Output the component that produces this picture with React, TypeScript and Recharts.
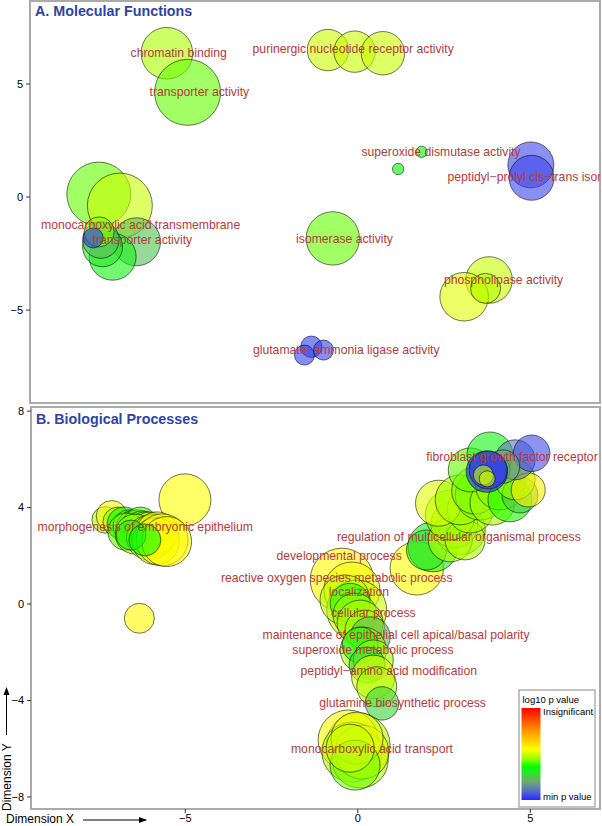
import React from "react"
import { ScatterChart, Scatter, XAxis, YAxis, ZAxis, ReferenceArea } from "recharts"

// bubbles: [dimension x, dimension y, term size, scaled log10 p (0 = min p, 1 = insignificant)]
const mfBubbles: [number, number, number, number][] = [
  [-5.51, 6.36, 6.66, 0.47],
  [-4.91, 4.63, 10.89, 0.42],
  [-7.48, 0.13, 10.24, 0.42],
  [-6.87, -0.38, 10.56, 0.5],
  [-6.39, -1.98, 5.76, 0.24],
  [-7.08, -2.64, 5.52, 0.33],
  [-7.37, -2.2, 4.0, 0.3],
  [-7.42, -1.9, 3.35, 0.22],
  [-7.47, -1.54, 2.25, 0.44],
  [-7.64, -1.81, 1.0, 0.02],
  [-0.85, 6.5, 4.28, 0.5],
  [-0.08, 6.43, 4.28, 0.5],
  [0.74, 6.36, 4.71, 0.5],
  [1.86, 2.0, 0.32, 0.35],
  [1.18, 1.24, 0.32, 0.35],
  [5.02, 1.42, 5.29, 0.04],
  [5.04, 0.85, 5.06, 0.04],
  [-0.71, -1.83, 7.13, 0.42],
  [3.81, -3.67, 5.43, 0.5],
  [3.09, -4.41, 5.9, 0.52],
  [3.71, -4.04, 2.25, 0.48],
  [-1.33, -6.62, 1.14, 0.03],
  [-0.98, -6.77, 1.0, 0.03],
  [-1.53, -6.99, 1.0, 0.03],
]

const mfLabels: [string, number, number][] = [
  ["chromatin binding", -5.17, 6.36],
  ["transporter activity", -4.57, 4.65],
  ["purinergic nucleotide receptor activity", -0.12, 6.55],
  ["superoxide dismutase activity", 2.42, 2.0],
  ["peptidyl\u2212prolyl cis\u2212trans isomerase activity", 5.95, 0.9],
  ["isomerase activity", -0.37, -1.83],
  ["phospholipase activity", 4.23, -3.67],
  ["glutamate\u2212ammonia ligase activity", -0.32, -6.77],
  ["monocarboxylic acid transmembrane", -6.27, -1.24],
  ["transporter activity", -6.22, -1.9],
]

const bpBubbles: [number, number, number, number][] = [
  // morphogenesis cluster
  [-5.01, 4.32, 6.76, 0.55],
  [-6.33, -0.59, 2.25, 0.56],
  [-7.32, 3.49, 1.77, 0.47],
  [-7.13, 3.65, 2.4, 0.54],
  [-6.95, 3.4, 2.25, 0.46],
  [-6.77, 3.32, 2.89, 0.36],
  [-6.63, 3.24, 2.56, 0.44],
  [-6.48, 3.15, 3.24, 0.38],
  [-6.37, 3.2, 2.89, 0.45],
  [-6.3, 3.3, 3.0, 0.4],
  [-6.25, 3.07, 3.61, 0.4],
  [-6.14, 2.99, 4.0, 0.47],
  [-6.02, 3.07, 3.24, 0.52],
  [-6.7, 3.0, 3.5, 0.42],
  [-6.45, 2.9, 4.0, 0.46],
  [-6.05, 2.75, 5.0, 0.5],
  [-5.93, 2.82, 4.84, 0.48],
  [-5.82, 2.95, 4.41, 0.53],
  [-5.85, 2.6, 5.5, 0.52],
  [-5.67, 2.66, 6.76, 0.55],
  [-5.54, 2.59, 6.25, 0.56],
  [-6.57, 2.86, 2.25, 0.34],
  [-6.17, 2.66, 2.56, 0.35],
  // fibroblast / regulation cluster
  [1.71, 1.48, 7.13, 0.55],
  [2.18, 2.37, 6.25, 0.33],
  [1.99, 2.24, 4.0, 0.3],
  [2.97, 3.07, 6.25, 0.46],
  [2.8, 3.3, 5.5, 0.47],
  [2.68, 2.66, 4.84, 0.48],
  [3.11, 2.66, 4.0, 0.47],
  [2.68, 3.69, 6.25, 0.45],
  [3.26, 3.9, 5.29, 0.47],
  [2.34, 4.18, 5.29, 0.52],
  [2.97, 4.32, 6.25, 0.46],
  [3.55, 4.52, 6.25, 0.43],
  [3.4, 4.7, 5.5, 0.44],
  [3.9, 4.2, 5.0, 0.46],
  [4.13, 4.94, 6.25, 0.44],
  [4.41, 4.32, 4.84, 0.38],
  [4.7, 4.52, 3.24, 0.25],
  [4.56, 5.15, 4.0, 0.45],
  [4.94, 4.73, 2.89, 0.58],
  [3.26, 5.56, 4.84, 0.42],
  [3.83, 6.18, 5.29, 0.33],
  [4.56, 5.98, 4.0, 0.12],
  [5.04, 6.25, 3.35, 0.05],
  [3.98, 5.56, 2.25, 0.3],
  [4.21, 5.7, 2.79, 0.2],
  [3.74, 5.49, 4.28, 0.0],
  [3.78, 5.56, 3.61, 0.02],
  [3.64, 5.35, 1.0, 0.5],
  [3.75, 5.19, 0.64, 0.5],
  // localization / cellular process chain
  [-0.46, 1.0, 10.05, 0.56],
  [-0.17, 0.58, 7.84, 0.54],
  [-0.03, -0.25, 9.0, 0.5],
  [-0.37, 0.17, 6.25, 0.48],
  [-0.22, 0.03, 4.0, 0.38],
  [-0.08, -0.46, 4.84, 0.45],
  [0.07, -0.79, 5.29, 0.47],
  [0.21, -1.08, 4.0, 0.46],
  [0.36, -1.36, 4.0, 0.22],
  [0.16, -1.91, 5.29, 0.47],
  [0.07, -1.7, 3.24, 0.34],
  [0.45, -2.32, 4.0, 0.45],
  [0.27, -2.53, 3.24, 0.28],
  [0.45, -3.02, 4.71, 0.52],
  [0.55, -3.43, 4.0, 0.47],
  [0.7, -4.12, 2.79, 0.27],
  // monocarboxylic acid transport cluster
  [0.01, -5.85, 10.24, 0.48],
  [-0.28, -5.64, 9.0, 0.54],
  [-0.17, -6.14, 9.0, 0.47],
  [0.07, -6.47, 7.84, 0.46],
  [0.12, -6.14, 7.29, 0.52],
  [-0.02, -5.56, 6.76, 0.53],
  [-0.08, -6.68, 6.25, 0.43],
  [-0.22, -5.98, 5.76, 0.5],
]

const bpLabels: [string, number, number][] = [
  ["morphogenesis of embryonic epithelium", -6.16, 3.21],
  ["fibroblast growth factor receptor", 4.47, 6.09],
  ["regulation of multicellular organismal process", 2.93, 2.77],
  ["developmental process", -0.54, 1.99],
  ["reactive oxygen species metabolic process", -0.61, 1.11],
  ["localization", 0.03, 0.51],
  ["cellular process", 0.45, -0.36],
  ["maintenance of epithelial cell apical/basal polarity", 1.11, -1.29],
  ["superoxide metabolic process", 0.44, -1.88],
  ["peptidyl\u2212amino acid modification", 0.9, -2.77],
  ["glutamine biosynthetic process", 1.3, -4.08],
  ["monocarboxylic acid transport", 0.41, -5.99],
]

const xDomain: [number, number] = [-9.47, 7.02]
const mfYDomain: [number, number] = [-9.11, 8.67]
const bpYDomain: [number, number] = [-8.5, 8.17]
const xTicks = [-5, 0, 5]
const mfYTicks = [-5, 0, 5]
const bpYTicks = [-8, -4, 0, 4, 8]

// colour scale, 0 = min p value (blue) .. 1 = insignificant (red)
const colorStops: [number, number[]][] = [
  [0.0, [40, 40, 255]],
  [0.1, [90, 110, 200]],
  [0.2, [110, 170, 110]],
  [0.3, [40, 230, 40]],
  [0.36, [0, 255, 0]],
  [0.45, [150, 255, 0]],
  [0.55, [255, 255, 0]],
  [0.75, [255, 150, 0]],
  [1.0, [255, 0, 0]],
]

function pColor(v: number) {
  for (let i = 1; i < colorStops.length; i++) {
    const [t1, c1] = colorStops[i]
    const [t0, c0] = colorStops[i - 1]
    if (v <= t1) {
      const f = (v - t0) / (t1 - t0)
      const c = c0.map((a, k) => Math.round(a + (c1[k] - a) * f))
      return `rgb(${c[0]},${c[1]},${c[2]})`
    }
  }
  return "rgb(255,0,0)"
}

const FONT = "'Liberation Sans', Arial, Helvetica, sans-serif"
const minus = (v: number) => String(v).replace("-", "\u2212")

const toRows = (b: [number, number, number, number][]) => b.map(([x, y, z, p]) => ({ x, y, z, p }))
const toLabels = (l: [string, number, number][]) => l.map(([name, x, y]) => ({ name, x, y }))

const Bubble = (props: any) => {
  const r = (props.width || 0) / 2
  return (
    <circle
      cx={props.cx}
      cy={props.cy}
      r={r}
      fill={pColor(props.payload.p)}
      fillOpacity={0.6}
      stroke="#000"
      strokeOpacity={0.55}
      strokeWidth={1}
    />
  )
}

const TermLabel = (props: any) => (
  <text
    x={props.cx}
    y={props.cy}
    dy="0.35em"
    textAnchor="middle"
    fill="#b03c3c"
    fontSize={12.2}
    fontFamily={FONT}
  >
    {props.payload.name}
  </text>
)

const tickStyle = { fill: "#000", fontSize: 11, fontFamily: FONT }

function Panel({ top, height, bubbles, labels, yDomain, yTicks, showX, left }: any) {
  return (
    <div style={{ position: "absolute", left: 0, top }}>
      <ScatterChart
        width={602}
        height={height}
        margin={{ top: 2, right: 2, bottom: showX ? 0 : 2, left: 0 }}
      >
        <XAxis
          type="number"
          dataKey="x"
          domain={xDomain}
          ticks={xTicks}
          allowDataOverflow
          hide={!showX}
          height={17}
          axisLine={false}
          tickSize={4}
          tickMargin={1}
          tickLine={{ stroke: "#333" }}
          tick={tickStyle}
          tickFormatter={minus}
        />
        <YAxis
          type="number"
          dataKey="y"
          domain={yDomain}
          ticks={yTicks}
          allowDataOverflow
          width={left}
          axisLine={false}
          tickSize={4}
          tickMargin={3}
          tickLine={{ stroke: "#333" }}
          tick={tickStyle}
          tickFormatter={minus}
        />
        <ZAxis type="number" dataKey="z" domain={[0, 12]} range={[0, 1200 * Math.PI]} />
        <ReferenceArea
          x1={xDomain[0]}
          x2={xDomain[1]}
          y1={yDomain[0]}
          y2={yDomain[1]}
          fill="none"
          stroke="#aaaaaa"
          strokeWidth={2}
          ifOverflow="visible"
        />
        <Scatter data={toRows(bubbles)} shape={Bubble} isAnimationActive={false} />
        <Scatter data={toLabels(labels)} shape={TermLabel} isAnimationActive={false} />
      </ScatterChart>
    </div>
  )
}

export default function App() {
  const gradStops = colorStops.map(([t, c]) => (
    <stop key={t} offset={`${(1 - t) * 100}%`} stopColor={`rgb(${c[0]},${c[1]},${c[2]})`} />
  ))
  return (
    <div
      style={{
        position: "absolute",
        left: 0,
        top: 0,
        width: 602,
        height: 826,
        background: "#fff",
        fontFamily: FONT,
        overflow: "hidden",
      }}
    >
      <Panel top={-1} height={406} bubbles={mfBubbles} labels={mfLabels} yDomain={mfYDomain} yTicks={mfYTicks} showX={false} left={30} />
      <Panel top={405} height={421} bubbles={bpBubbles} labels={bpLabels} yDomain={bpYDomain} yTicks={bpYTicks} showX={true} left={31} />

      <svg width={602} height={826} style={{ position: "absolute", left: 0, top: 0, pointerEvents: "none" }}>
        <defs>
          <linearGradient id="pgrad" x1="0" y1="0" x2="0" y2="1">
            {gradStops.reverse()}
          </linearGradient>
          <marker id="arrow" markerWidth="8" markerHeight="8" refX="7" refY="4" orient="auto">
            <path d="M0,1 L8,4 L0,7 Z" fill="#000" />
          </marker>
        </defs>
        <text x={35} y={16} fontSize={14.3} fontWeight="bold" fill="#2f44a0" fontFamily={FONT}>
          A. Molecular Functions
        </text>
        <text x={36} y={424} fontSize={14.3} fontWeight="bold" fill="#2f44a0" fontFamily={FONT}>
          B. Biological Processes
        </text>

        {/* p value legend */}
        <rect x={519} y={690} width={76} height={117} fill="#fff" stroke="#888" strokeWidth={1} />
        <text x={522.5} y={703} fontSize={9.5} fill="#000" fontFamily={FONT}>log10 p value</text>
        <rect x={521.5} y={708} width={19} height={92} fill="url(#pgrad)" />
        <text x={543} y={715} fontSize={9.5} fill="#000" fontFamily={FONT}>Insignificant</text>
        <text x={543} y={800} fontSize={9.5} fill="#000" fontFamily={FONT}>min p value</text>

        {/* dimension arrows */}
        <text x={6} y={823} fontSize={12} fill="#000" fontFamily={FONT}>Dimension X</text>
        <line x1={83} y1={820} x2={146} y2={820} stroke="#000" strokeWidth={1} markerEnd="url(#arrow)" />
        <text
          x={0}
          y={0}
          fontSize={12}
          fill="#000"
          fontFamily={FONT}
          transform="translate(10.5,811) rotate(-90)"
        >
          Dimension Y
        </text>
        <line x1={6.5} y1={735} x2={6.5} y2={688} stroke="#000" strokeWidth={1} markerEnd="url(#arrow)" />
      </svg>
    </div>
  )
}
